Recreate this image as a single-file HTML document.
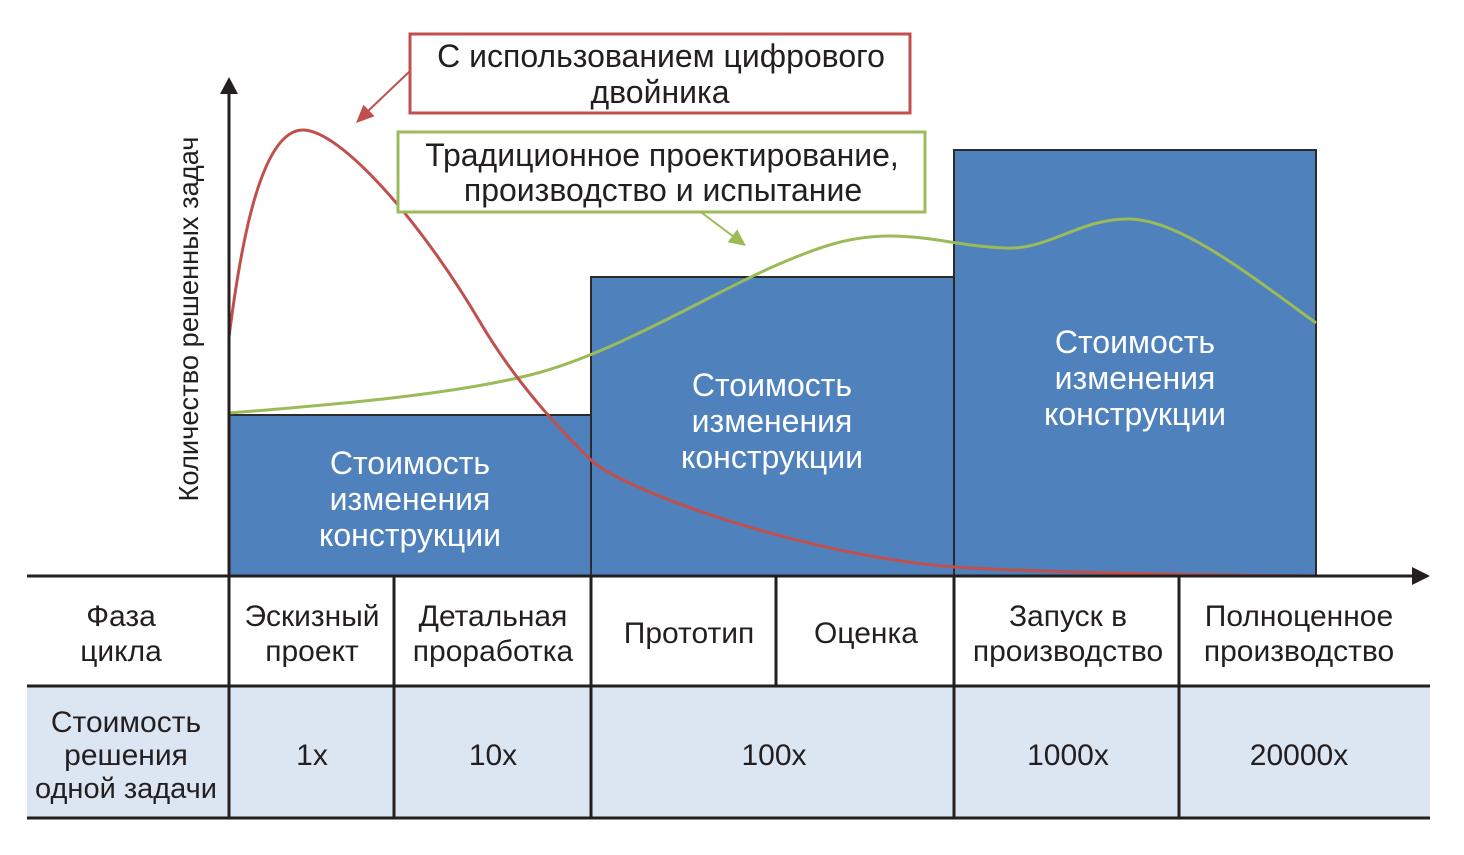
<!DOCTYPE html>
<html>
<head>
<meta charset="utf-8">
<style>
html,body{margin:0;padding:0;background:#fff;}
svg{display:block;}
text{font-family:"Liberation Sans","DejaVu Sans",sans-serif;font-size:30px;fill:#231f20;}
.w{fill:#fff;font-size:32px;}
.c{font-size:32px;}
</style>
</head>
<body>
<svg width="1464" height="855" viewBox="0 0 1464 855" xmlns="http://www.w3.org/2000/svg">
  <!-- table row 2 fill -->
  <rect x="27" y="686" width="1403" height="132" fill="#dce6f2"/>

  <!-- blue boxes -->
  <rect x="229" y="415" width="362" height="161" fill="#4f81bd" stroke="#2b2b2b" stroke-width="2"/>
  <rect x="591" y="277" width="363" height="299" fill="#4f81bd" stroke="#2b2b2b" stroke-width="2"/>
  <rect x="954" y="150" width="362" height="426" fill="#4f81bd" stroke="#2b2b2b" stroke-width="2"/>

  <!-- box labels -->
  <g text-anchor="middle">
    <text class="w" x="410" y="474">Стоимость</text>
    <text class="w" x="410" y="510">изменения</text>
    <text class="w" x="410" y="546">конструкции</text>
    <text class="w" x="772" y="396">Стоимость</text>
    <text class="w" x="772" y="432">изменения</text>
    <text class="w" x="772" y="468">конструкции</text>
    <text class="w" x="1135" y="353">Стоимость</text>
    <text class="w" x="1135" y="389">изменения</text>
    <text class="w" x="1135" y="425">конструкции</text>
  </g>

  <!-- curves -->
  <path d="M229,413 C330,405 450,395 530,375 C610,355 700,300 770,268 C820,246 850,236 890,236 C930,236 960,246 1005,248 C1050,250 1080,218 1130,219 C1180,220 1250,275 1316,323" fill="none" stroke="#9bbb59" stroke-width="3"/>
  <path d="M229,337 C240,250 260,130 303,130 C340,130 420,220 480,322 C516,383 560,430 591,460 C621,489 800,555 954,567 C1050,573 1200,575 1316,576" fill="none" stroke="#c0504d" stroke-width="3"/>

  <!-- axes -->
  <line x1="229" y1="90" x2="229" y2="818" stroke="#231f20" stroke-width="3"/>
  <polygon points="229,77 220,94 238,94" fill="#231f20"/>
  <line x1="27" y1="576" x2="1414" y2="576" stroke="#231f20" stroke-width="3"/>
  <polygon points="1430,576 1412,567 1412,585" fill="#231f20"/>

  <!-- table lines -->
  <line x1="27" y1="686" x2="1430" y2="686" stroke="#231f20" stroke-width="3"/>
  <line x1="27" y1="818" x2="1430" y2="818" stroke="#231f20" stroke-width="3"/>
  <line x1="394" y1="576" x2="394" y2="818" stroke="#231f20" stroke-width="3"/>
  <line x1="591" y1="576" x2="591" y2="818" stroke="#231f20" stroke-width="3"/>
  <line x1="776" y1="576" x2="776" y2="686" stroke="#231f20" stroke-width="3"/>
  <line x1="954" y1="576" x2="954" y2="818" stroke="#231f20" stroke-width="3"/>
  <line x1="1179" y1="576" x2="1179" y2="818" stroke="#231f20" stroke-width="3"/>

  <!-- table text -->
  <g text-anchor="middle">
    <text x="121" y="626">Фаза</text>
    <text x="121" y="661">цикла</text>
    <text x="312" y="626">Эскизный</text>
    <text x="312" y="661">проект</text>
    <text x="493" y="626">Детальная</text>
    <text x="493" y="661">проработка</text>
    <text x="689" y="643">Прототип</text>
    <text x="866" y="643">Оценка</text>
    <text x="1068" y="626">Запуск в</text>
    <text x="1068" y="661">производство</text>
    <text x="1299" y="626">Полноценное</text>
    <text x="1299" y="661">производство</text>

    <text x="126" y="732">Стоимость</text>
    <text x="126" y="765">решения</text>
    <text x="126" y="798" style="font-size:29px">одной задачи</text>
    <text x="312" y="765">1x</text>
    <text x="493" y="765">10x</text>
    <text x="774" y="765">100x</text>
    <text x="1068" y="765">1000x</text>
    <text x="1299" y="765">20000x</text>
  </g>

  <!-- y-axis label -->
  <text x="0" y="0" text-anchor="middle" style="font-size:27.3px" transform="translate(198,319) rotate(-90)">Количество решенных задач</text>

  <!-- callout boxes -->
  <rect x="410" y="34" width="500" height="79" fill="#fff" stroke="#c0504d" stroke-width="3"/>
  <g text-anchor="middle">
    <text class="c" x="661" y="67">С использованием цифрового</text>
    <text class="c" x="660" y="103">двойника</text>
  </g>
  <rect x="398" y="132" width="527" height="80" fill="#fff" stroke="#9bbb59" stroke-width="3"/>
  <g text-anchor="middle">
    <text class="c" x="662" y="166">Традиционное проектирование,</text>
    <text class="c" x="663" y="201">производство и испытание</text>
  </g>

  <!-- callout arrows -->
  <line x1="409" y1="72" x2="368" y2="111" stroke="#c0504d" stroke-width="2"/>
  <polygon points="356,123 374.6,116.3 363.4,104.7" fill="#c0504d"/>
  <line x1="702" y1="213" x2="734" y2="237" stroke="#9bbb59" stroke-width="2"/>
  <polygon points="746,246 727.6,242.2 737.2,229.4" fill="#9bbb59"/>
</svg>
</body>
</html>
